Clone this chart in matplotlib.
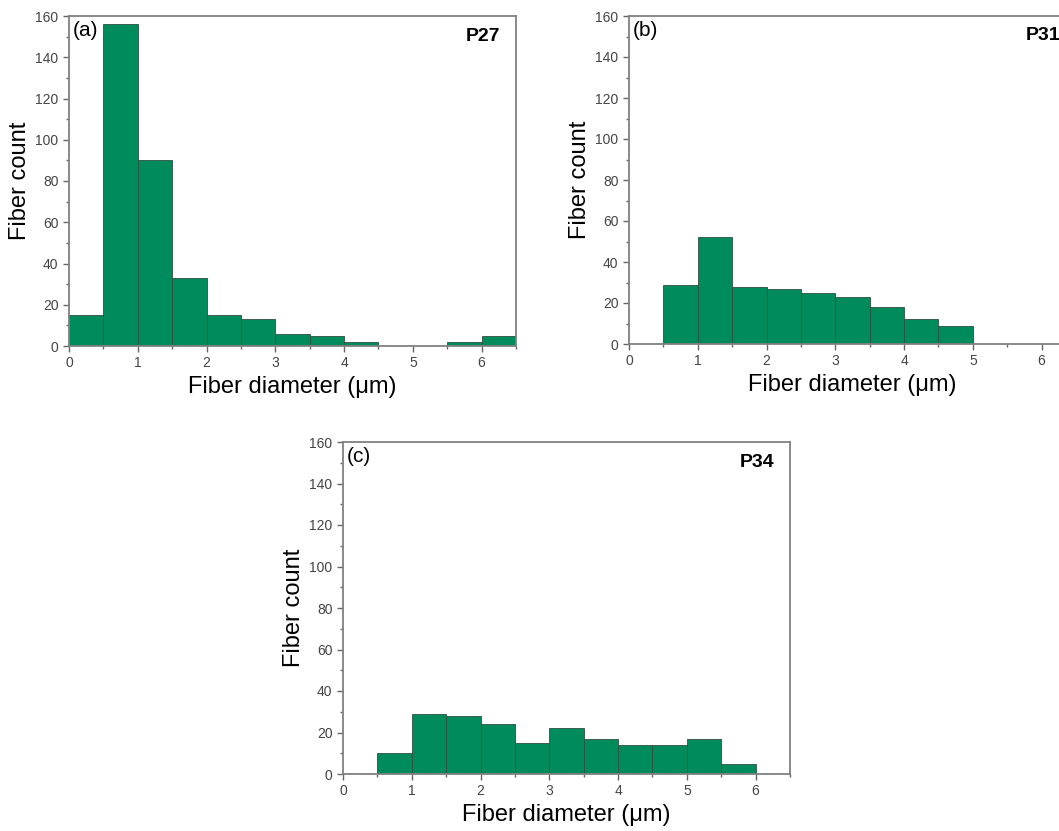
import numpy as np
from matplotlib import pyplot as plt
from matplotlib.ticker import MultipleLocator

plt.rcParams['font.family'] = ['Liberation Sans', 'DejaVu Sans']

# bin left edges (um), bin width 0.5
edges_a = [0.0, 0.5, 1.0, 1.5, 2.0, 2.5, 3.0, 3.5, 4.0, 4.5, 5.0, 5.5, 6.0]
counts_a = [15, 156, 90, 33, 15, 13, 6, 5, 2, 0, 0, 2, 5]

edges_b = [0.5, 1.0, 1.5, 2.0, 2.5, 3.0, 3.5, 4.0, 4.5]
counts_b = [29, 52, 28, 27, 25, 23, 18, 12, 9]

edges_c = [0.5, 1.0, 1.5, 2.0, 2.5, 3.0, 3.5, 4.0, 4.5, 5.0, 5.5]
counts_c = [10, 29, 28, 24, 15, 22, 17, 14, 14, 17, 5]

panels = [('(a)', 'P27', edges_a, counts_a),
          ('(b)', 'P31', edges_b, counts_b),
          ('(c)', 'P34', edges_c, counts_c)]

W, H = 1059, 831
# axes boxes in pixels: left, top, right, bottom
boxes = [(69, 16, 516, 346), (629, 16, 1076, 344), (343, 442, 790, 774)]

fig = plt.figure(figsize=(W / 100, H / 100), dpi=100)

for (tag, name, edges, counts), (l, t, r, b) in zip(panels, boxes):
    ax = fig.add_axes([l / W, (H - b) / H, (r - l) / W, (b - t) / H])
    ax.bar(edges, counts, width=0.5, align='edge', color='#008B5C',
           edgecolor='#2f4f3f', linewidth=0.6)
    ax.set_xlim(0, 6.5)
    ax.set_ylim(0, 160)
    ax.xaxis.set_major_locator(MultipleLocator(1))
    ax.xaxis.set_minor_locator(MultipleLocator(0.5))
    ax.yaxis.set_major_locator(MultipleLocator(20))
    ax.yaxis.set_minor_locator(MultipleLocator(10))
    ax.tick_params(which='both', direction='out', colors='#666666',
                   labelcolor='#444444', labelsize=10, width=1)
    ax.tick_params(which='major', length=4)
    ax.tick_params(which='minor', length=2)
    for sp in ax.spines.values():
        sp.set_color('#808080')
        sp.set_linewidth(1.3)
    ax.set_xlabel('Fiber diameter (\u03bcm)', fontsize=17, labelpad=4)
    ax.set_ylabel('Fiber count', fontsize=17, labelpad=3)
    ax.text(0.008, 0.985, tag, transform=ax.transAxes, fontsize=15,
            ha='left', va='top')
    ax.text(0.888, 0.965, name, transform=ax.transAxes, fontsize=14,
            fontweight='bold', ha='left', va='top')

fig.savefig('out.png', dpi=100)
